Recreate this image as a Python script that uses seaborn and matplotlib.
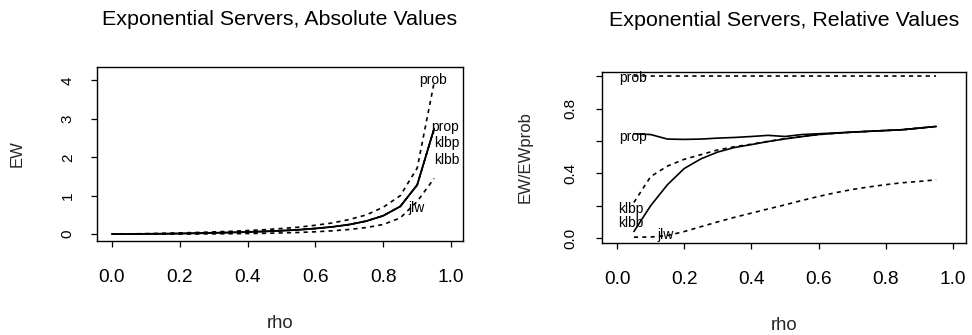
import numpy as np
import pandas as pd
import matplotlib
matplotlib.use("Agg")
import matplotlib.pyplot as plt
import seaborn as sns

# Traffic intensity grids
rho_abs = [0.00, 0.05, 0.10, 0.15, 0.20, 0.25, 0.30, 0.35, 0.40, 0.45,
           0.50, 0.55, 0.60, 0.65, 0.70, 0.75, 0.80, 0.85, 0.90, 0.95]
rho_rel = [0.05, 0.10, 0.15, 0.20, 0.25, 0.30, 0.35, 0.40, 0.45, 0.50,
           0.55, 0.60, 0.65, 0.70, 0.75, 0.80, 0.85, 0.90, 0.95]

# Mean waiting time EW per policy (absolute values)
ew_prob = [0, 0.005, 0.012, 0.02, 0.03, 0.042, 0.056, 0.072, 0.092, 0.115,
           0.145, 0.18, 0.23, 0.29, 0.38, 0.50, 0.70, 1.00, 1.72, 3.95]
ew_prop = [0, 0.003, 0.008, 0.013, 0.019, 0.027, 0.036, 0.046, 0.058, 0.073,
           0.092, 0.115, 0.148, 0.19, 0.25, 0.34, 0.48, 0.72, 1.28, 2.75]
ew_klbp = [0, 0.001, 0.004, 0.008, 0.014, 0.022, 0.031, 0.041, 0.054, 0.068,
           0.088, 0.112, 0.145, 0.188, 0.248, 0.338, 0.478, 0.72, 1.28, 2.75]
ew_klbb = [0, 0.0002, 0.002, 0.005, 0.011, 0.018, 0.027, 0.038, 0.051, 0.066,
           0.086, 0.11, 0.144, 0.187, 0.247, 0.337, 0.477, 0.72, 1.28, 2.75]
ew_jlw = [0, 0, 0.0003, 0.001, 0.002, 0.004, 0.006, 0.01, 0.014, 0.02,
          0.03, 0.042, 0.06, 0.085, 0.12, 0.17, 0.25, 0.42, 0.85, 1.45]

# EW relative to EW of the prob policy
rel_prob = [1.0] * 19
rel_prop = [0.645, 0.64, 0.612, 0.61, 0.612, 0.618, 0.622, 0.628, 0.635, 0.628,
            0.64, 0.645, 0.65, 0.655, 0.66, 0.665, 0.67, 0.68, 0.69]
rel_klbp = [0.22, 0.38, 0.445, 0.487, 0.516, 0.545, 0.565, 0.58, 0.598, 0.614,
            0.628, 0.64, 0.648, 0.655, 0.66, 0.665, 0.67, 0.68, 0.69]
rel_klbb = [0.04, 0.2, 0.33, 0.43, 0.49, 0.532, 0.56, 0.578, 0.597, 0.613,
            0.627, 0.64, 0.648, 0.655, 0.66, 0.665, 0.67, 0.68, 0.69]
rel_jlw = [0.005, 0.006, 0.015, 0.04, 0.07, 0.1, 0.128, 0.154, 0.18, 0.205,
           0.232, 0.257, 0.28, 0.3, 0.316, 0.33, 0.342, 0.35, 0.36]

policies = ["prob", "prop", "klbp", "klbb", "jlw"]
dashed = {"prob": True, "prop": False, "klbp": True, "klbb": False, "jlw": True}

abs_df = pd.concat([
    pd.DataFrame({"rho": rho_abs, "EW": v, "policy": p})
    for p, v in zip(policies, [ew_prob, ew_prop, ew_klbp, ew_klbb, ew_jlw])
])
rel_df = pd.concat([
    pd.DataFrame({"rho": rho_rel, "EW": v, "policy": p})
    for p, v in zip(policies, [rel_prob, rel_prop, rel_klbp, rel_klbb, rel_jlw])
])

# Curve annotations (label, x, y)
abs_labels = [("prob", 0.947, 4.0), ("prop", 0.982, 2.78), ("klbp", 0.988, 2.36),
              ("klbb", 0.988, 1.94), ("jlw", 0.897, 0.67)]
rel_labels = [("prob", 0.046, 0.99), ("prop", 0.046, 0.627), ("klbp", 0.041, 0.18),
              ("klbb", 0.041, 0.09), ("jlw", 0.143, 0.02)]

sns.set_theme(style="white")
plt.rcParams["font.family"] = ["Liberation Sans", "DejaVu Sans"]
plt.rcParams["text.color"] = "black"

fig = plt.figure(figsize=(9.72, 3.35), dpi=100)
ax1 = fig.add_axes([97 / 972, (335 - 241) / 335, 366 / 972, 174 / 335])
ax2 = fig.add_axes([602 / 972, (335 - 243) / 335, 364 / 972, 171 / 335])


def draw(ax, df, labels):
    for p in policies:
        sub = df[df["policy"] == p]
        sns.lineplot(data=sub, x="rho", y="EW", ax=ax, color="black",
                     linewidth=1.2, estimator=None, sort=False)
        ln = ax.lines[-1]
        if dashed[p]:
            ln.set_dashes((2.5, 2.5))
    for txt, x, y in labels:
        ax.text(x, y, txt, ha="center", va="center", fontsize=10, color="black")
    for s in ax.spines.values():
        s.set_visible(True)
        s.set_color("black")
        s.set_linewidth(1.0)
    ax.set_xticks([0.0, 0.2, 0.4, 0.6, 0.8, 1.0])
    ax.set_xticklabels(["0.0", "0.2", "0.4", "0.6", "0.8", "1.0"], fontsize=13.8)
    ax.tick_params(axis="x", which="both", bottom=True, length=4.5, width=0.9,
                   pad=15.5, colors="black")
    ax.tick_params(axis="y", which="both", left=True, length=4, width=0.9,
                   colors="black")
    ax.set_xlabel("rho", fontsize=13.3, labelpad=21)
    ax.grid(False)


draw(ax1, abs_df, abs_labels)
ax1.set_xlim(-0.044, 1.035)
ax1.set_ylim(-0.18, 4.35)
ax1.set_yticks([0, 1, 2, 3, 4])
ax1.set_yticklabels(["0", "1", "2", "3", "4"], rotation=90, va="center", fontsize=11)
ax1.tick_params(axis="y", pad=12)
ax1.set_ylabel("EW", fontsize=12, labelpad=26)
ax1.set_title("Exponential Servers, Absolute Values", fontsize=15.4, pad=30)

draw(ax2, rel_df, rel_labels)
ax2.set_xlim(-0.045, 1.039)
ax2.set_ylim(-0.031, 1.027)
ax2.set_yticks([0.0, 0.2, 0.4, 0.6, 0.8, 1.0])
ax2.set_yticklabels(["0.0", "", "0.4", "", "0.8", ""], rotation=90, va="center",
                    fontsize=11)
ax2.tick_params(axis="y", pad=14)
ax2.set_ylabel("EW/EWprob", fontsize=12, labelpad=22)
ax2.set_title("Exponential Servers, Relative Values", fontsize=15.4, pad=33)

fig.savefig("out.png", dpi=100)
